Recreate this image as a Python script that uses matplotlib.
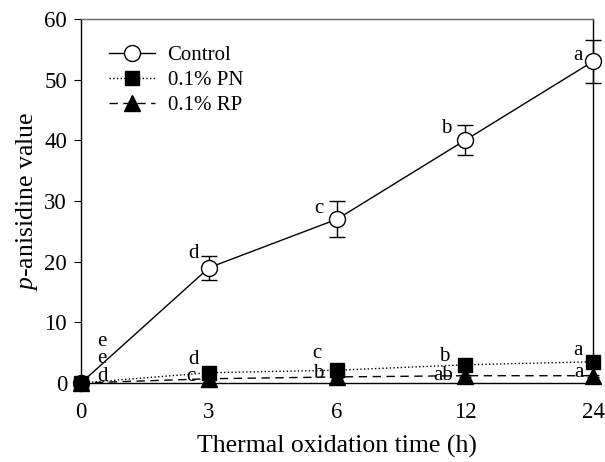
import matplotlib
matplotlib.use("Agg")
import matplotlib.pyplot as plt
import numpy as np

plt.rcParams['font.family'] = ['Liberation Serif', 'DejaVu Serif']
plt.rcParams['mathtext.fontset'] = 'custom'
plt.rcParams['mathtext.it'] = 'Liberation Serif:italic'
plt.rcParams['mathtext.rm'] = 'Liberation Serif'

time_labels = ['0', '3', '6', '12', '24']
control = [0, 19, 27, 40, 53]
control_err = [0, 2.0, 3.0, 2.5, 3.5]
pn = [0, 1.7, 2.1, 3.0, 3.5]
pn_err = [0, 0.2, 0.2, 0.2, 0.2]
rp = [0, 0.7, 1.0, 1.2, 1.2]
rp_err = [0, 0.2, 0.2, 0.2, 0.2]

control_letters = ['e', 'd', 'c', 'b', 'a']
pn_letters = ['e', 'd', 'c', 'b', 'a']
rp_letters = ['d', 'c', 'b', 'ab', 'a']

x = np.arange(len(time_labels))

fig = plt.figure(figsize=(6.05, 4.62), dpi=100)
ax = fig.add_axes([0.1339, 0.171, 0.8463, 0.788])

# error bars (no markers)
ax.errorbar(x, control, yerr=control_err, fmt='none', ecolor='black',
            capsize=6, capthick=1, elinewidth=1, clip_on=False, zorder=2)
ax.errorbar(x, pn, yerr=pn_err, fmt='none', ecolor='black',
            capsize=4, capthick=1, elinewidth=1, clip_on=False, zorder=2)
ax.errorbar(x, rp, yerr=rp_err, fmt='none', ecolor='black',
            capsize=4, capthick=1, elinewidth=1, clip_on=False, zorder=2)

# lines + markers
ax.plot(x, control, color='black', lw=1, ls='-', marker='o', ms=11.5,
        mfc='white', mec='black', mew=1, clip_on=False, zorder=3, label='Control')
ax.plot(x, pn, color='black', lw=1, ls=':', marker='s', ms=10,
        mfc='black', mec='black', clip_on=False, zorder=4, label='0.1% PN')
ax.plot(x, rp, color='black', lw=1, ls=(0, (6, 4)), marker='^', ms=11,
        mfc='black', mec='black', clip_on=False, zorder=5, label='0.1% RP')

ax.set_xlim(0, 4)
ax.set_ylim(0, 60)
ax.set_xticks(x)
ax.set_xticklabels(time_labels)
ax.set_yticks(np.arange(0, 61, 10))
ax.tick_params(axis='both', labelsize=16.5, colors='black')
ax.tick_params(axis='y', direction='out', length=5, pad=5)
ax.tick_params(axis='x', direction='in', length=6, pad=14)

ax.set_xlabel('Thermal oxidation time (h)', fontsize=18.5, labelpad=8)
ax.set_ylabel(r'$\it{p}$-anisidine value', fontsize=18.5, labelpad=3)

for s in ['left', 'bottom', 'right']:
    ax.spines[s].set_color('black')
    ax.spines[s].set_linewidth(1)
ax.spines['top'].set_color('#666666')
ax.spines['top'].set_linewidth(1)

fs = 15
ctrl_pos = [(0.16, 6.9), (-0.12, 21.4), (-0.14, 28.7), (-0.15, 42.0), (-0.12, 54.0)]
for i, l in enumerate(control_letters):
    px, py = ctrl_pos[i]
    ax.text(i + px, py, l, fontsize=fs, ha='center', va='center')
pn_pos = [(0.16, 4.1), (-0.12, 3.9), (-0.16, 4.8), (-0.16, 4.4), (-0.12, 5.3)]
for i, l in enumerate(pn_letters):
    px, py = pn_pos[i]
    ax.text(i + px, py, l, fontsize=fs, ha='center', va='center')
rp_pos = [(0.17, 1.15), (-0.14, 1.0), (-0.15, 1.5), (-0.17, 1.2), (-0.11, 1.8)]
for i, l in enumerate(rp_letters):
    px, py = rp_pos[i]
    ax.text(i + px, py, l, fontsize=fs, ha='center', va='center')

leg = ax.legend(loc='upper left', bbox_to_anchor=(0.055, 0.926), frameon=False,
                fontsize=15, handlelength=2.2, handletextpad=0.6,
                labelspacing=0.25, borderaxespad=0, borderpad=0)

fig.savefig('out.png', dpi=100)
